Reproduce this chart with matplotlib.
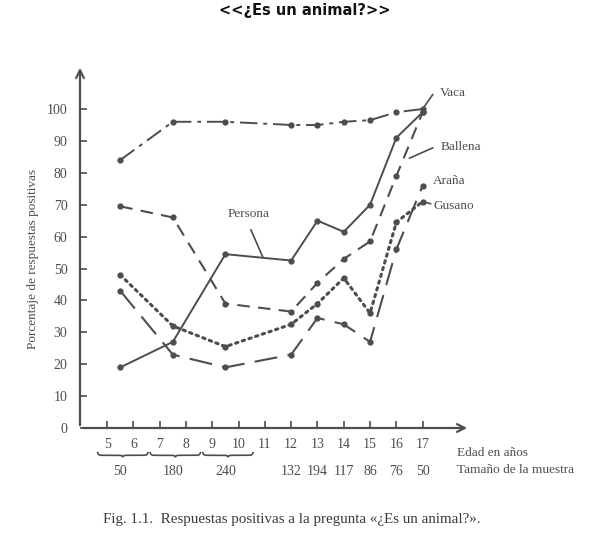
import numpy as np
import matplotlib
matplotlib.use("Agg")
import matplotlib.pyplot as plt
from matplotlib.transforms import blended_transform_factory

# ---------------- data ----------------
group_x = [5.5, 7.5, 9.5, 12, 13, 14, 15, 16, 17]
sample_sizes = [50, 180, 240, 132, 194, 117, 86, 76, 50]
age_ticks = [5, 6, 7, 8, 9, 10, 11, 12, 13, 14, 15, 16, 17]
y_ticks = [0, 10, 20, 30, 40, 50, 60, 70, 80, 90, 100]
age_groups = [(5, 6), (7, 8), (9, 10)]

vaca = [84, 96, 96, 95, 95, 96, 96.5, 99, 100]
persona = [19, 27, 54.5, 52.5, 65, 61.5, 70, 91, 99]
ballena = [69.5, 66, 39, 36.5, 45.5, 53, 58.5, 79, 99]
arana = [43, 23, 19, 23, 34.5, 32.5, 27, 56, 76]
gusano = [48, 32, 25.5, 32.5, 39, 47, 36, 64.5, 71]

INK = "#4d4d4d"
SERIF = ["Liberation Serif", "DejaVu Serif"]

fig = plt.figure(figsize=(6.10, 5.34), dpi=100)
ax = fig.add_axes([80 / 610, 1 - 428 / 534, 390 / 610, 363 / 534])
ax.set_xlim(3.97, 18.8)
ax.set_ylim(0, 113.8)

for s in ax.spines.values():
    s.set_visible(False)

# axes with arrows
ax.annotate("", xy=(1, 0), xytext=(0, 0), xycoords="axes fraction",
            arrowprops=dict(arrowstyle="->", color=INK, lw=1.6, mutation_scale=14))
ax.annotate("", xy=(0, 1), xytext=(0, 0), xycoords="axes fraction",
            arrowprops=dict(arrowstyle="->", color=INK, lw=1.6, mutation_scale=14))

ax.set_yticks(y_ticks)
ax.set_yticklabels([str(v) for v in y_ticks], fontfamily=SERIF, fontsize=10, color=INK)
ax.set_xticks(age_ticks)
ax.set_xticklabels([str(v) for v in age_ticks], fontfamily=SERIF, fontsize=10, color=INK)
ax.tick_params(axis="y", direction="in", length=5, width=1.2, color=INK, pad=9)
ax.tick_params(axis="x", direction="in", length=5, width=1.2, color=INK, pad=7)

ms = 3.5
ax.plot(group_x, vaca, color=INK, lw=1.4, linestyle=(0, (9, 3, 2, 3)),
        marker="o", ms=ms, clip_on=False)
ax.plot(group_x, persona, color=INK, lw=1.4, linestyle="-",
        marker="o", ms=ms, clip_on=False)
ax.plot(group_x, ballena, color=INK, lw=1.5, linestyle=(0, (6, 4)),
        marker="o", ms=ms, clip_on=False)
ax.plot(group_x, arana, color=INK, lw=1.5, linestyle=(0, (11, 5)),
        marker="o", ms=ms, clip_on=False)
ax.plot(group_x, gusano, color=INK, lw=2.2, linestyle=(0, (0.8, 1.5)),
        marker="o", ms=ms, clip_on=False, dash_capstyle="round")

# series labels with leaders
lab_kw = dict(fontfamily=SERIF, fontsize=9.5, color=INK)
ax.plot([17, 17.38], [100, 104.5], color=INK, lw=1.2, clip_on=False)
ax.text(17.65, 105, "Vaca", va="center", ha="left", **lab_kw)
ax.plot([16.5, 17.38], [84.6, 87.8], color=INK, lw=1.2, clip_on=False)
ax.text(17.7, 88, "Ballena", va="center", ha="left", **lab_kw)
ax.text(17.4, 77.5, "Araña", va="center", ha="left", **lab_kw)
ax.plot([17, 17.3], [71, 70.3], color=INK, lw=1.2, clip_on=False)
ax.text(17.4, 69.6, "Gusano", va="center", ha="left", **lab_kw)
ax.plot([10.47, 10.92], [62.1, 53.6], color=INK, lw=1.2)
ax.text(10.39, 67.1, "Persona", va="center", ha="center", **lab_kw)

# axis annotations below
trans = blended_transform_factory(ax.transData, ax.transAxes)
ax.text(18.3, -0.068, "Edad en años", transform=trans, ha="left", va="center", **lab_kw)
ax.text(18.3, -0.117, "Tamaño de la muestra", transform=trans, ha="left", va="center", **lab_kw)
for x, n in zip(group_x, sample_sizes):
    ax.text(x, -0.12, str(n), transform=trans, ha="center", va="center",
            fontfamily=SERIF, fontsize=10, color=INK)

# braces under grouped ages
for a, b in age_groups:
    x0, x1 = a - 0.36, b + 0.55
    t = np.linspace(0, 1, 200)
    s = np.abs(2 * t - 1)
    edge = 1 - np.exp(-(1 - s) * 30)
    cusp = np.exp(-s * 30)
    yy = -0.068 - 0.012 * (0.6 * edge + 0.4 * cusp)
    ax.plot(x0 + (x1 - x0) * t, yy, transform=trans, color=INK, lw=1.2, clip_on=False)

# y label
fig.text(33 / 610, 1 - 259 / 534, "Porcentaje de respuestas positivas", rotation=90,
         ha="center", va="center", fontfamily=SERIF, fontsize=9.5, color=INK)

# caption
fig.text(292 / 610, 1 - 519 / 534,
         "Fig. 1.1.  Respuestas positivas a la pregunta «¿Es un animal?».",
         ha="center", va="center", fontfamily=SERIF, fontsize=10.8, color="#3a3a3a")

# title
fig.text(0.5, 1 - 3 / 534, "<<¿Es un animal?>>", ha="center", va="top",
         fontsize=10.5, fontweight="bold", color="#111111")

fig.savefig("out.png", dpi=100)
